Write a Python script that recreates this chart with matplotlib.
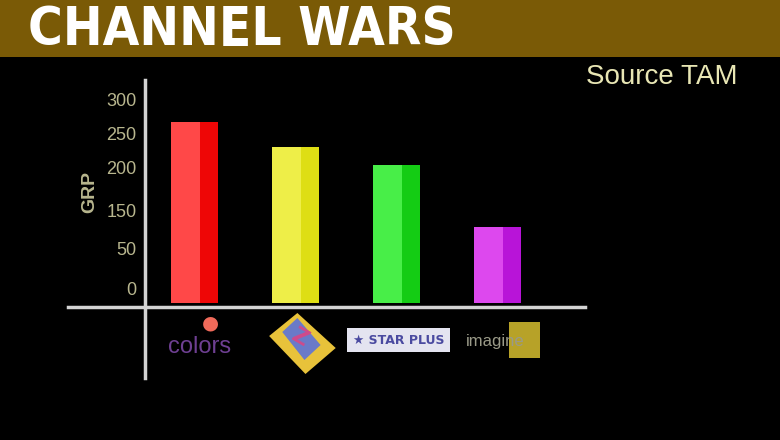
import matplotlib
matplotlib.use("Agg")
import matplotlib.pyplot as plt
from matplotlib.patches import Rectangle, Polygon
from matplotlib.lines import Line2D
import matplotlib.transforms as mtransforms

# ---- data ----
channels = ["colors", "Zee", "STAR PLUS", "imagine"]
grp_values = [268, 230, 204, 112]
tick_values = [22, 81, 137, 200, 250, 300]
tick_labels = ["0", "50", "150", "200", "250", "300"]
light_colors = ["#ff4848", "#eeee48", "#48ee48", "#dd48ee"]
dark_colors = ["#ee0606", "#dede14", "#14cc14", "#b814d8"]

W, H = 780, 440
fig = plt.figure(figsize=(W / 100, H / 100), dpi=100)
fig.patch.set_facecolor("black")

def fx(px):
    return px / W

def fy(py):
    return 1 - py / H

# title band
fig.patches.append(Rectangle((0, fy(57)), 1, 57 / H, transform=fig.transFigure,
                             facecolor="#7a5a06", edgecolor="none", zorder=0))
fig.text(fx(28), fy(45), "CHANNEL WARS", color="white", fontsize=38,
         fontweight="bold", fontstretch="condensed",
         family=["DejaVu Sans"], ha="left", va="baseline")
fig.text(fx(737), fy(77), "Source TAM", color="#e8e6b4", fontsize=20,
         family=["Liberation Sans", "DejaVu Sans"], ha="right", va="center")

# main axes: x pixel 145..585, y pixel 303 (0) .. 100 (300)
ax = fig.add_axes([fx(145), fy(303), 440 / W, 203 / H])
ax.set_facecolor("none")
x = list(range(len(channels)))
ax.set_xlim(-0.49, 3.87)
ax.set_ylim(0, 300)

bw = 0.465
ax.bar(x, grp_values, width=bw, color=light_colors, edgecolor="none", zorder=2)
dark_w = bw * 0.38
ax.bar([i + bw / 2 - dark_w / 2 for i in x], grp_values, width=dark_w,
       color=dark_colors, edgecolor="none", zorder=3)

for s in ax.spines.values():
    s.set_visible(False)
ax.set_xticks([])
ax.set_yticks(tick_values)
ax.set_yticklabels(tick_labels)
ax.tick_params(axis="y", length=0, pad=6, labelcolor="#b8b68e", labelsize=13)
for t in ax.get_yticklabels():
    t.set_family(["Liberation Sans", "DejaVu Sans"])
ax.set_ylabel("GRP", color="#b8b68e", fontsize=14, fontweight="bold",
              family=["Liberation Sans", "DejaVu Sans"], labelpad=2)
ax.yaxis.set_label_coords((90 - 145) / 440, (303 - 192) / 203)
ax.yaxis.label.set_va("center")

# axis lines (extend beyond the plot)
fig.add_artist(Line2D([fx(68), fx(585)], [fy(307), fy(307)], color="#d4d4d4",
                      lw=2.5, transform=fig.transFigure))
fig.add_artist(Line2D([fx(145), fx(145)], [fy(80), fy(378)], color="#d4d4d4",
                      lw=2.5, transform=fig.transFigure))

# channel "logos" as text below each bar
trans = mtransforms.blended_transform_factory(ax.transData, fig.transFigure)
# colors
ax.text(x[0] + 0.05, fy(347), channels[0], transform=trans, color="#6e3f92",
        fontsize=17, ha="center", va="center",
        family=["Liberation Sans", "DejaVu Sans"], clip_on=False)
ax.text(x[0] + 0.16, fy(323), "\u25CF", transform=trans, color="#f06a5a",
        fontsize=14, ha="center", va="center", clip_on=False)
# Zee
cx = x[1] + 0.07
ax.add_patch(Polygon([(cx - 0.33, fy(336)), (cx - 0.05, fy(313)),
                      (cx + 0.33, fy(348)), (cx + 0.03, fy(374))],
                     closed=True, transform=trans, facecolor="#e8c23a",
                     edgecolor="none", clip_on=False))
ax.add_patch(Polygon([(cx - 0.2, fy(332)), (cx - 0.05, fy(318)),
                      (cx + 0.18, fy(345)), (cx + 0.02, fy(360))],
                     closed=True, transform=trans, facecolor="#6a7ac8",
                     edgecolor="none", clip_on=False))
ax.text(cx - 0.02, fy(338), "Z", transform=trans, color="#d04a8a",
        fontsize=16, fontweight="bold", ha="center", va="center",
        rotation=-30, clip_on=False)
# Star Plus
ax.text(x[2] + 0.02, fy(340), "\u2605 STAR PLUS", transform=trans,
        color="#4a4aa0", fontsize=9, fontweight="bold", ha="center",
        va="center", clip_on=False,
        family=["DejaVu Sans"],
        bbox=dict(boxstyle="square,pad=0.45", facecolor="#e4e4f0",
                  edgecolor="none"))
# imagine
ax.add_patch(Rectangle((x[3] + 0.12, fy(358)), 0.3, 36 / H, transform=trans,
                       facecolor="#d8c030", edgecolor="none", alpha=0.85,
                       clip_on=False, zorder=1))
ax.text(x[3] - 0.02, fy(341), "imagine", transform=trans, color="#9a9a88",
        fontsize=12, ha="center", va="center", clip_on=False, zorder=4,
        family=["Liberation Sans", "DejaVu Sans"])

fig.savefig("out.png", dpi=100, facecolor="black")
